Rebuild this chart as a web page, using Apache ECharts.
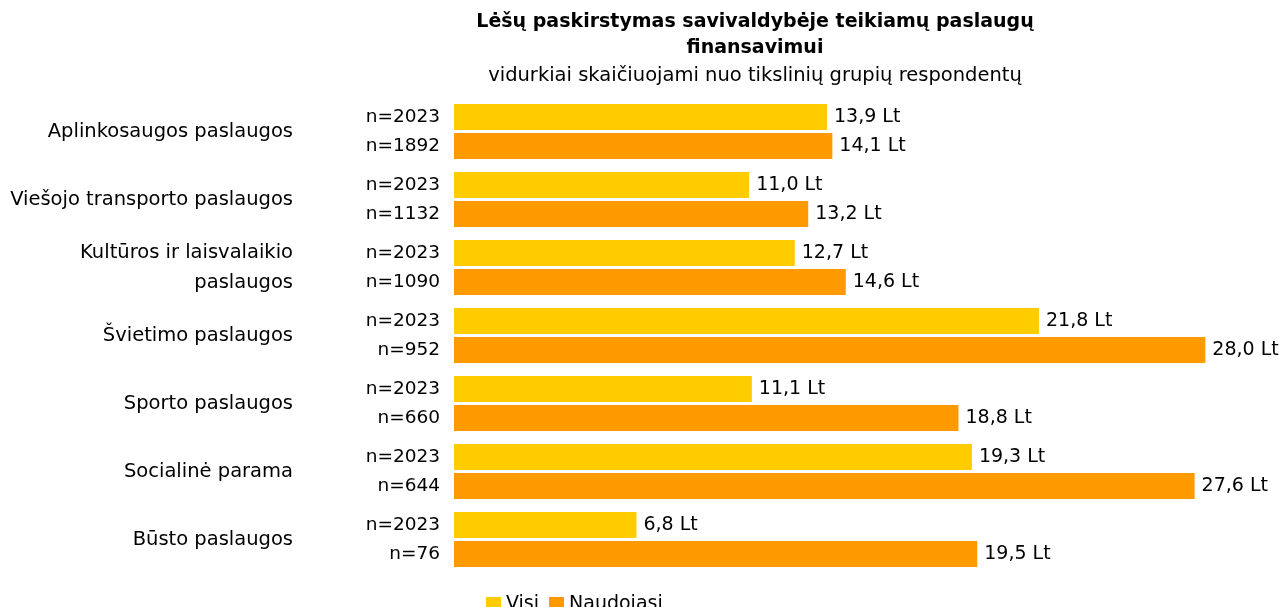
<!DOCTYPE html>
<html>
<head>
<meta charset="utf-8">
<script src="https://cdn.jsdelivr.net/npm/echarts@6/dist/echarts.min.js"></script>
<style>
  html, body { margin: 0; padding: 0; background: #fff; }
  #main { width: 1284px; height: 607px; }
</style>
</head>
<body>
<div id="main"></div>
<script>
// categories and values
var categories = [
	'Aplinkosaugos paslaugos',
	'Viešojo transporto paslaugos',
	'Kultūros ir laisvalaikio\npaslaugos',
	'Švietimo paslaugos',
	'Sporto paslaugos',
	'Socialinė parama',
	'Būsto paslaugos'
];
var visi = [13.9, 11.0, 12.7, 21.8, 11.1, 19.3, 6.8];
var naudojasi = [14.1, 13.2, 14.6, 28.0, 18.8, 27.6, 19.5];
var nVisi = [2023, 2023, 2023, 2023, 2023, 2023, 2023];
var nNaudojasi = [1892, 1132, 1090, 952, 660, 644, 76];

var font = 'DejaVu Sans';

var nLabels = nVisi.map(function (v, i) {
	return 'n=' + v + '\nn=' + nNaudojasi[i];
});

function lt(p) {
	return p.value.toFixed(1).replace('.', ',') + ' Lt';
}

var chart = echarts.init(document.getElementById('main'));

var option = {
	animation: false,
	color: ['#FFCC00', '#FF9900'],
	title: {
		text: 'Lėšų paskirstymas savivaldybėje teikiamų paslaugų\nfinansavimui',
		subtext: 'vidurkiai skaičiuojami nuo tikslinių grupių respondentų',
		left: 750,
		textAlign: 'center',
		top: 4,
		itemGap: 5,
		textStyle: { fontFamily: font, fontSize: 19, fontWeight: 'bold', color: '#000', lineHeight: 26 },
		subtextStyle: { fontFamily: font, fontSize: 19.5, color: '#000' }
	},
	legend: {
		data: ['Visi', 'Naudojasi'],
		left: 481,
		top: 590,
		icon: 'rect',
		itemWidth: 15,
		itemHeight: 15,
		itemGap: 10,
		textStyle: { fontFamily: font, fontSize: 19, color: '#000' }
	},
	grid: {
		left: 454,
		right: 25,
		top: 97.5,
		bottom: 33.5,
		containLabel: false,
		outerBoundsMode: 'none'
	},
	xAxis: {
		type: 'value',
		min: 0,
		max: 30,
		show: false
	},
	yAxis: [
		{
			type: 'category',
			data: categories,
			inverse: true,
			position: 'left',
			axisLine: { show: false },
			axisTick: { show: false },
			axisLabel: { margin: 161, fontFamily: font, fontSize: 19.5, color: '#000', lineHeight: 30 }
		},
		{
			type: 'category',
			data: nLabels,
			inverse: true,
			position: 'left',
			axisLine: { show: false },
			axisTick: { show: false },
			axisLabel: { margin: 14, fontFamily: font, fontSize: 18.5, color: '#000', lineHeight: 29 }
		}
	],
	series: [
		{
			name: 'Visi',
			type: 'bar',
			data: visi,
			barWidth: 26,
			barGap: '12%',
			label: { show: true, position: 'right', distance: 7, formatter: lt, fontFamily: font, fontSize: 19, color: '#000' }
		},
		{
			name: 'Naudojasi',
			type: 'bar',
			data: naudojasi,
			barWidth: 26,
			barGap: '12%',
			label: { show: true, position: 'right', distance: 7, formatter: lt, fontFamily: font, fontSize: 19, color: '#000' }
		}
	]
};

chart.setOption(option);
</script>
</body>
</html>
